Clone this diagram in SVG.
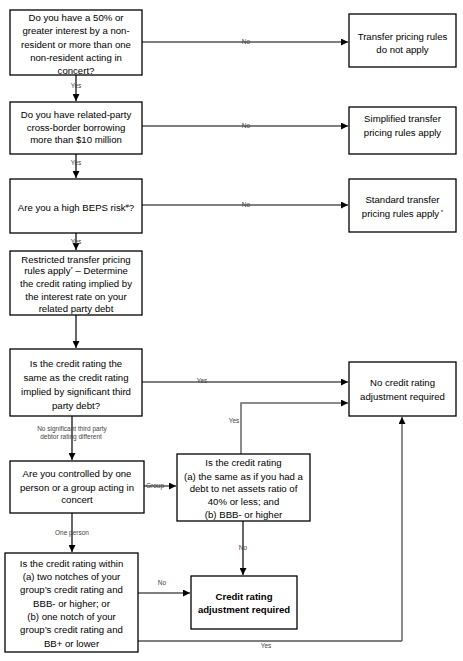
<svg xmlns="http://www.w3.org/2000/svg" width="463" height="661" viewBox="0 0 463 661">
<style>
.box{fill:#fff;stroke:#000;stroke-width:1.3}
.t{font-family:"Liberation Sans",Arial,sans-serif;font-size:9.6px;fill:#000;text-anchor:middle}
.b{font-weight:bold}
.lb{font-family:"Liberation Sans",Arial,sans-serif;font-size:6.5px;fill:#444;text-anchor:middle}
.c{fill:none;stroke:#000;stroke-width:1.2}
.g{fill:none;stroke:#666;stroke-width:1.5}
</style>
<defs>
<marker id="ah" viewBox="0 0 10 10" refX="10" refY="5" markerWidth="7" markerHeight="7" markerUnits="userSpaceOnUse" orient="auto">
<path d="M0,0 L10,5 L0,10 z" fill="#000"/>
</marker>
</defs>
<rect width="463" height="661" fill="#fff"/>
<g id="connectors">
<path class="c" d="M142,42 H348" marker-end="url(#ah)"/>
<path class="c" d="M142,126 H348" marker-end="url(#ah)"/>
<path class="c" d="M142,205 H348" marker-end="url(#ah)"/>
<path class="c" d="M76,75 V101" marker-end="url(#ah)"/>
<path class="c" d="M76,154 V178" marker-end="url(#ah)"/>
<path class="c" d="M76,233 V250" marker-end="url(#ah)"/>
<path class="c" d="M76,315 V348" marker-end="url(#ah)"/>
<path class="c" d="M142,382 H348" marker-end="url(#ah)"/>
<path class="c" d="M72,416 V460" marker-end="url(#ah)"/>
<path class="c" d="M142,486 H176" marker-end="url(#ah)"/>
<path class="g" d="M241,454 V403 H348" marker-end="url(#ah)"/>
<path class="c" d="M72,513 V552" marker-end="url(#ah)"/>
<path class="c" d="M243,521 V575" marker-end="url(#ah)"/>
<path class="c" d="M138,593 H190" marker-end="url(#ah)"/>
<path class="c" d="M138,641 H402"/>
<path class="g" d="M402,641 V417" marker-end="url(#ah)"/>
<text class="lb" x="76" y="88">Yes</text>
<text class="lb" x="76" y="165">Yes</text>
<text class="lb" x="76" y="244">Yes</text>
<text class="lb" x="246" y="44">No</text>
<text class="lb" x="246" y="128">No</text>
<text class="lb" x="246" y="207">No</text>
<text class="lb" x="202" y="383">Yes</text>
<text class="lb" x="234" y="423">Yes</text>
<text class="lb" x="72" y="431">No significant third party</text>
<text class="lb" x="71" y="439">debtor rating different</text>
<text class="lb" x="155" y="488">Group</text>
<text class="lb" x="72" y="535">One person</text>
<text class="lb" x="162" y="585">No</text>
<text class="lb" x="243" y="550">No</text>
<text class="lb" x="266" y="648">Yes</text>
</g>
<g id="q1">
<rect class="box" x="10" y="10" width="132" height="65"/>
<text class="t" x="76" y="20.5">Do you have a 50% or</text>
<text class="t" x="76" y="34">greater interest by a non-</text>
<text class="t" x="76" y="47.5">resident or more than one</text>
<text class="t" x="76" y="61">non-resident acting in</text>
<text class="t" x="76" y="74">concert?</text>
</g>
<g id="r1">
<rect class="box" x="349" y="14" width="107" height="53"/>
<text class="t" x="402.5" y="39.5">Transfer pricing rules</text>
<text class="t" x="402.5" y="52.5">do not apply</text>
</g>
<g id="q2">
<rect class="box" x="10" y="102" width="132" height="52"/>
<text class="t" x="76" y="117.5">Do you have related-party</text>
<text class="t" x="76" y="130.5">cross-border borrowing</text>
<text class="t" x="76" y="143">more than $10 million</text>
</g>
<g id="r2">
<rect class="box" x="349" y="107" width="107" height="47"/>
<text class="t" x="402.5" y="121.5">Simplified transfer</text>
<text class="t" x="402.5" y="135.5">pricing rules apply</text>
</g>
<g id="q3">
<rect class="box" x="10" y="179" width="132" height="54"/>
<text class="t" x="76" y="210.5">Are you a high BEPS risk<tspan font-size="6" dy="-3">#</tspan><tspan dy="3">?</tspan></text>
</g>
<g id="r3">
<rect class="box" x="349" y="179" width="107" height="53"/>
<text class="t" x="402.5" y="202.5">Standard transfer</text>
<text class="t" x="402.5" y="216.5">pricing rules apply<tspan font-size="6" dy="-3"> *</tspan></text>
</g>
<g id="q4">
<rect class="box" x="10" y="251" width="132" height="64"/>
<text class="t" x="76" y="262.5">Restricted transfer pricing</text>
<text class="t" x="76" y="274">rules apply<tspan font-size="6" dy="-3">*</tspan><tspan dy="3"> – Determine</tspan></text>
<text class="t" x="76" y="286.5">the credit rating implied by</text>
<text class="t" x="76" y="299.5">the interest rate on your</text>
<text class="t" x="76" y="311.5">related party debt</text>
</g>
<g id="q5">
<rect class="box" x="10" y="349" width="132" height="67"/>
<text class="t" x="76" y="366.5">Is the credit rating the</text>
<text class="t" x="76" y="380.5">same as the credit rating</text>
<text class="t" x="76" y="394.5">implied by significant third</text>
<text class="t" x="76" y="408.5">party debt?</text>
</g>
<g id="r4">
<rect class="box" x="349" y="362" width="107" height="54"/>
<text class="t" x="402.5" y="385.5">No credit rating</text>
<text class="t" x="402.5" y="399.5">adjustment required</text>
</g>
<g id="q6">
<rect class="box" x="10" y="461" width="134" height="52"/>
<text class="t" x="77" y="476.5">Are you controlled by one</text>
<text class="t" x="77" y="490.5">person or a group acting in</text>
<text class="t" x="77" y="502.5">concert</text>
</g>
<g id="q7">
<rect class="box" x="177" y="454" width="133" height="67"/>
<text class="t" x="243.5" y="465.5">Is the credit rating</text>
<text class="t" x="243.5" y="479.5">(a) the same as if you had a</text>
<text class="t" x="243.5" y="491.5">debt to net assets ratio of</text>
<text class="t" x="243.5" y="504.5">40% or less; and</text>
<text class="t" x="243.5" y="517.5">(b) BBB- or higher</text>
</g>
<g id="q8">
<rect class="box" x="5" y="553" width="133" height="99"/>
<text class="t" x="71.5" y="566.5">Is the credit rating within</text>
<text class="t" x="71.5" y="579.5">(a) two notches of your</text>
<text class="t" x="71.5" y="592.5">group’s credit rating and</text>
<text class="t" x="71.5" y="606.5">BBB- or higher; or</text>
<text class="t" x="71.5" y="619.5">(b) one notch of your</text>
<text class="t" x="71.5" y="632.5">group’s credit rating and</text>
<text class="t" x="71.5" y="647">BB+ or lower</text>
</g>
<g id="r5">
<rect class="box" x="191" y="576" width="106" height="53"/>
<text class="t b" x="244" y="599.5">Credit rating</text>
<text class="t b" x="244" y="612.5">adjustment required</text>
</g>
</svg>
